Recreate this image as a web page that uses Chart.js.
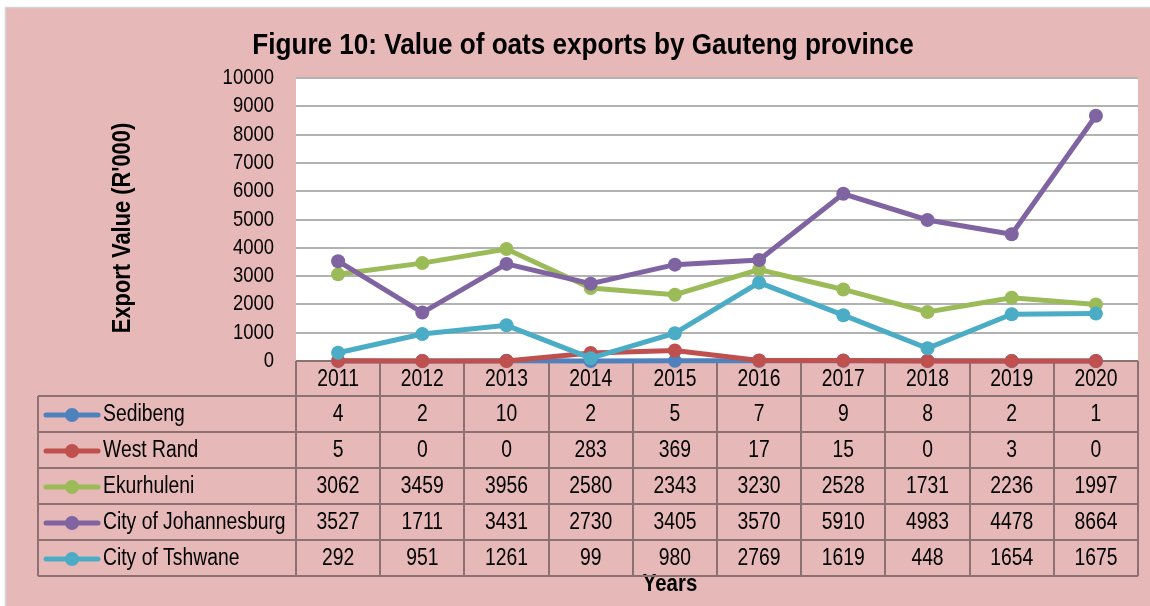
<!DOCTYPE html>
<html>
<head>
<meta charset="utf-8">
<script src="https://cdn.jsdelivr.net/npm/chart.js@4/dist/chart.umd.min.js"></script>
<style>
  html, body { margin: 0; padding: 0; background: #fff; }
  #wrap { width: 1150px; height: 606px; }
</style>
</head>
<body>
<div id="wrap"><canvas id="chart" width="1150" height="606"></canvas></div>
<script>
// data
const years = ['2011', '2012', '2013', '2014', '2015', '2016', '2017', '2018', '2019', '2020'];
const seriesNames = ['Sedibeng', 'West Rand', 'Ekurhuleni', 'City of Johannesburg', 'City of Tshwane'];
const sedibeng = [4, 2, 10, 2, 5, 7, 9, 8, 2, 1];
const westRand = [5, 0, 0, 283, 369, 17, 15, 0, 3, 0];
const ekurhuleni = [3062, 3459, 3956, 2580, 2343, 3230, 2528, 1731, 2236, 1997];
const johannesburg = [3527, 1711, 3431, 2730, 3405, 3570, 5910, 4983, 4478, 8664];
const tshwane = [292, 951, 1261, 99, 980, 2769, 1619, 448, 1654, 1675];
const colors = ['#4F81BD', '#C0504D', '#9BBB59', '#8064A2', '#4BACC6'];

const FONT = "'Liberation Sans', Arial, sans-serif";
const NARROW = 0.84; // no Arial Narrow here, so squeeze text horizontally
const PINK = '#E6B8B7';
const TABLE_LINE = '#8C7172';
const ROW_H = 36;
const TABLE_LEFT = 38;

const allSeries = [sedibeng, westRand, ekurhuleni, johannesburg, tshwane];

const datasets = allSeries.map((vals, i) => ({
  label: seriesNames[i],
  data: vals,
  borderColor: colors[i],
  backgroundColor: colors[i],
  pointBackgroundColor: colors[i],
  pointBorderColor: colors[i],
  borderWidth: 5,
  pointRadius: 7,
  pointBorderWidth: 0,
  pointHoverRadius: 7,
  tension: 0,
  clip: false,
  order: allSeries.length - i // later series drawn on top, like Excel
}));

function narrowText(ctx, text, x, y, align, sx) {
  ctx.save();
  ctx.translate(x, y);
  ctx.scale(sx || NARROW, 1);
  ctx.textAlign = align;
  ctx.fillText(text, 0, 0);
  ctx.restore();
}

// page background, plot area, frame, titles
const backdrop = {
  id: 'backdrop',
  beforeDraw(chart) {
    const { ctx, chartArea: a } = chart;
    ctx.save();
    ctx.fillStyle = PINK;
    ctx.fillRect(6, 8, 1144, 598);
    ctx.strokeStyle = '#D4D4D4';
    ctx.lineWidth = 1.5;
    ctx.beginPath();
    ctx.moveTo(5.5, 606);
    ctx.lineTo(5.5, 7.5);
    ctx.lineTo(1150, 7.5);
    ctx.stroke();
    ctx.fillStyle = '#FFFFFF';
    ctx.fillRect(a.left, a.top, a.right - a.left, a.bottom - a.top);

    ctx.fillStyle = '#000';
    ctx.textBaseline = 'middle';
    ctx.font = 'bold 29px ' + FONT;
    narrowText(ctx, 'Figure 10: Value of oats exports by Gauteng province', 583, 46, 'center', 0.9);

    ctx.font = 'bold 24px ' + FONT;
    narrowText(ctx, 'Years', 670, 584, 'center', 0.85);

    ctx.translate(123, 228);
    ctx.rotate(-Math.PI / 2);
    ctx.font = 'bold 26px ' + FONT;
    narrowText(ctx, "Export Value (R'000)", 0, 0, 'center', 0.84);
    ctx.restore();
  }
};

// y tick labels, x header row and data table under the plot
const dataTable = {
  id: 'dataTable',
  beforeDatasetsDraw(chart) {
    const { ctx, chartArea: a, scales } = chart;
    const x = scales.x;
    const y = scales.y;
    const colW = x.getPixelForValue(1) - x.getPixelForValue(0);
    const top = a.bottom;
    const headBottom = top + 35;
    const tableBottom = headBottom + ROW_H * seriesNames.length;

    ctx.save();
    ctx.fillStyle = '#000';
    ctx.textBaseline = 'middle';
    ctx.font = '22px ' + FONT;
    y.ticks.forEach(t => {
      narrowText(ctx, String(t.value), a.left - 22, y.getPixelForValue(t.value), 'right');
    });

    ctx.strokeStyle = TABLE_LINE;
    ctx.lineWidth = 2;
    ctx.beginPath();
    for (let i = 0; i <= years.length; i++) {
      const px = Math.round(a.left + i * colW);
      ctx.moveTo(px, top);
      ctx.lineTo(px, tableBottom);
    }
    ctx.moveTo(TABLE_LEFT, headBottom);
    ctx.lineTo(TABLE_LEFT, tableBottom);
    ctx.moveTo(a.left, top);
    ctx.lineTo(a.right, top);
    for (let r = 0; r <= seriesNames.length; r++) {
      const py = Math.round(headBottom + r * ROW_H);
      ctx.moveTo(TABLE_LEFT, py);
      ctx.lineTo(a.right, py);
    }
    ctx.stroke();

    ctx.font = '23px ' + FONT;
    ctx.fillStyle = '#000';
    years.forEach((yr, i) => {
      narrowText(ctx, yr, x.getPixelForValue(i), top + 19, 'center');
    });

    allSeries.forEach((vals, r) => {
      const cy = headBottom + r * ROW_H + ROW_H / 2 + 1;
      ctx.strokeStyle = colors[r];
      ctx.lineWidth = 5;
      ctx.lineCap = 'round';
      ctx.beginPath();
      ctx.moveTo(46, cy);
      ctx.lineTo(98, cy);
      ctx.stroke();
      ctx.fillStyle = colors[r];
      ctx.beginPath();
      ctx.arc(72, cy, 7, 0, Math.PI * 2);
      ctx.fill();
      ctx.fillStyle = '#000';
      narrowText(ctx, seriesNames[r], 103, cy, 'left');
      vals.forEach((v, i) => {
        narrowText(ctx, String(v), x.getPixelForValue(i), cy, 'center');
      });
    });
    ctx.restore();
  }
};

new Chart(document.getElementById('chart'), {
  type: 'line',
  data: { labels: years, datasets },
  options: {
    responsive: false,
    animation: false,
    layout: { padding: { left: 0, top: 78, right: 12, bottom: 0 } },
    plugins: {
      legend: { display: false },
      title: { display: false },
      tooltip: { enabled: false }
    },
    scales: {
      x: {
        offset: true,
        grid: { display: false, drawTicks: false },
        border: { display: false },
        ticks: { display: false },
        afterFit(scale) { scale.height = 245; }
      },
      y: {
        min: 0,
        max: 10000,
        grid: { color: '#B2B2B2', lineWidth: 2, drawTicks: false },
        border: { display: false },
        ticks: { display: false, stepSize: 1000 },
        afterFit(scale) { scale.width = 296; }
      }
    }
  },
  plugins: [backdrop, dataTable]
});
</script>
</body>
</html>
